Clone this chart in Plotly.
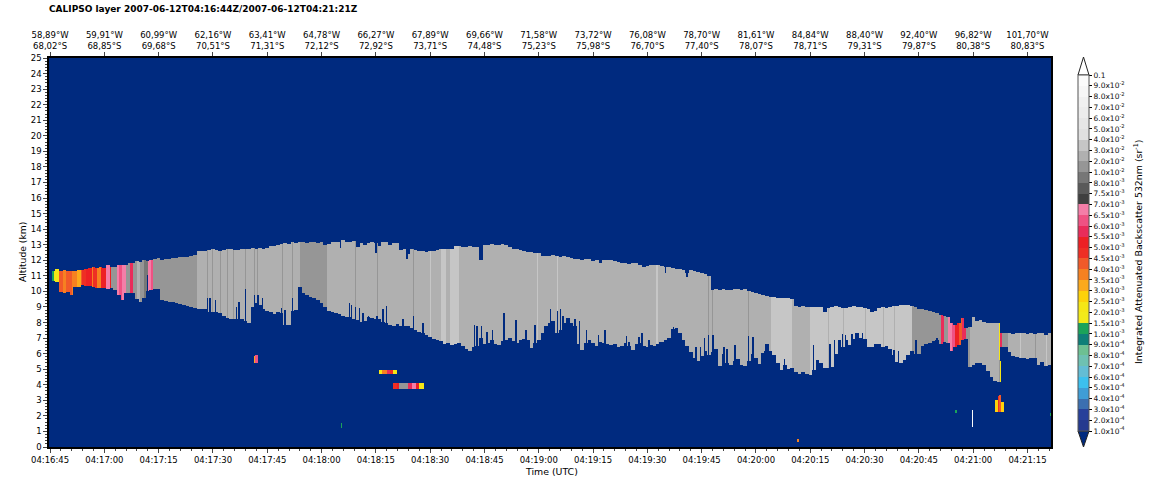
import numpy as np
import pandas as pd
import plotly.graph_objects as go

# ---------- data ----------
start_time = "2007-06-12 04:16:45"
tick_times = ["04:16:45","04:17:00","04:17:15","04:17:30","04:17:45","04:18:00","04:18:15","04:18:30","04:18:45","04:19:00",
              "04:19:15","04:19:30","04:19:45","04:20:00","04:20:15","04:20:30","04:20:45","04:21:00","04:21:15"]
tick_lon = ["58,89","59,91","60,99","62,16","63,41","64,78","66,27","67,89","69,66","71,58",
            "73,72","76,08","78,70","81,61","84,84","88,40","92,40","96,82","101,70"]
tick_lat = ["68,02","68,85","69,68","70,51","71,31","72,12","72,92","73,71","74,48","75,23",
            "75,98","76,70","77,40","78,07","78,71","79,31","79,87","80,38","80,83"]

# main layer, one profile per second from 04:16:45
layer_top = [0,11.3,11.45,11.3,11.35,11.3,11.3,11.3,11.35,11.4,
 11.45,11.5,11.55,11.5,11.55,11.5,11.7,11.55,11.55,11.7,
 11.7,11.7,11.85,11.85,11.95,11.9,12.0,11.95,12.05,12.1,
 12.15,12.05,12.1,12.1,12.15,12.15,12.2,12.2,12.2,12.25,
 12.35,12.6,12.6,12.6,12.65,12.7,12.65,12.6,12.65,12.7,
 12.7,12.65,12.65,12.7,12.75,12.7,12.8,12.75,12.8,12.75,
 12.8,12.9,12.9,13.0,13.05,13.1,13.05,13.15,13.1,13.15,
 13.15,13.1,13.2,13.15,13.1,13.15,12.95,13.05,13.15,13.2,
 13.2,13.3,13.15,13.2,13.25,12.85,13.1,12.95,13.1,13.2,
 13.1,12.9,13.15,13.15,13.0,13.1,13.1,12.65,12.75,12.4,
 12.7,12.65,12.6,12.6,12.55,12.6,12.6,12.65,12.7,12.7,
 12.75,12.75,12.9,12.9,12.85,12.85,12.9,12.85,12.85,12.0,
 12.95,13.0,13.05,13.0,13.0,13.05,13.0,12.85,12.75,12.7,
 12.65,12.6,12.55,12.55,12.5,12.45,12.25,12.3,12.3,12.35,
 12.25,12.2,12.3,12.2,12.15,12.1,12.1,12.05,12.1,12.1,
 11.95,12.0,11.85,12.05,12.0,12.0,11.95,11.9,11.85,11.8,
 11.75,11.8,11.8,11.7,11.6,11.65,11.7,11.7,11.7,11.65,
 11.55,11.55,11.5,11.45,11.45,11.4,11.2,11.35,11.3,11.25,
 11.2,11.15,11.0,10.1,10.15,10.1,10.15,10.1,10.1,10.15,
 10.15,10.1,10.15,10.0,9.95,9.9,9.85,9.8,9.7,9.65,
 9.65,9.6,9.55,9.6,9.55,9.5,9.05,9.0,9.05,9.0,
 9.0,9.0,9.0,9.0,8.7,8.95,9.0,9.05,9.0,8.95,
 8.95,9.0,9.05,9.0,9.0,8.95,8.9,8.7,8.75,8.95,
 9.0,8.95,9.0,9.05,9.05,9.1,9.1,9.1,9.05,9.0,
 8.9,8.85,8.8,8.75,8.7,8.6,8.5,8.45,8.35,8.0,
 7.85,8.0,8.3,7.65,7.7,8.35,8.1,8.15,8.05,7.95,
 8.0,8.0,8.0,7.3,7.3,7.35,7.25,7.3,7.35,7.3,
 7.25,7.3,7.25,7.3,7.3,7.2,7.3]
layer_base = [0,10.7,10.6,9.95,9.9,9.95,9.75,10.3,10.3,10.4,
 10.35,10.35,10.3,10.2,10.2,10.25,10.15,10.2,10.1,9.75,
 9.45,9.9,9.9,9.9,9.5,9.3,9.6,10.0,10.1,10.15,
 10.15,9.45,9.4,9.3,9.3,9.25,9.2,9.1,9.05,9.0,
 8.95,8.9,8.85,8.85,8.65,8.7,8.7,8.6,8.45,8.3,
 8.25,8.2,8.2,8.2,8.1,8.0,9.0,9.25,9.15,8.9,
 8.75,8.65,8.55,8.65,8.6,7.85,7.85,8.75,8.8,10.3,
 9.9,9.75,9.65,9.6,9.45,9.25,9.0,8.75,8.65,8.6,
 8.55,8.45,8.35,8.35,8.2,8.15,8.05,8.1,8.35,8.3,
 8.2,8.25,8.05,8.0,7.85,7.75,7.9,7.8,7.8,7.75,
 7.65,7.55,7.4,7.3,7.2,7.05,6.95,6.85,6.8,6.6,
 6.7,6.55,6.6,6.7,6.5,6.3,6.2,6.4,6.5,7.0,
 6.6,6.7,6.9,6.6,6.55,6.8,6.9,7.0,6.8,6.7,
 6.9,6.95,6.9,6.35,6.7,6.9,7.3,7.8,8.0,8.1,
 7.35,7.5,8.0,8.3,8.0,7.8,6.6,6.25,6.7,6.9,
 6.7,6.5,6.75,6.7,6.6,6.55,6.6,6.45,6.5,6.7,
 6.5,6.25,6.6,6.7,6.5,6.4,6.55,6.5,6.6,6.75,
 6.9,7.0,7.6,7.65,7.3,6.9,6.5,6.1,5.7,5.55,
 5.85,6.2,5.9,6.1,6.3,5.2,6.0,5.4,5.25,5.5,
 5.65,5.3,5.2,5.55,6.0,5.75,5.35,6.05,6.6,6.2,
 5.9,5.4,4.95,5.25,5.0,5.1,4.85,4.7,4.85,4.7,
 4.6,4.95,5.6,5.4,5.05,5.05,5.15,6.0,6.85,6.4,
 6.9,6.55,6.95,7.0,7.0,6.95,6.45,6.4,6.6,6.6,
 6.45,6.5,6.3,5.9,5.45,5.4,5.6,5.9,6.2,5.95,
 6.0,6.5,6.6,6.7,6.8,6.85,6.6,6.75,6.7,6.15,
 6.45,6.55,6.9,6.95,5.15,5.3,5.4,5.4,5.3,4.9,
 4.5,4.25,4.2,6.4,6.4,6.1,5.85,5.8,5.75,5.75,
 5.65,5.7,5.7,5.25,5.45,5.2,5.3]

# backscatter along the main layer: each value holds until its end time (s)
seg_end_s = [1.0,2.4,3.5,4.5,6,7.5,8.5,9,10,11.5,12,13,14,15.5,16.5,17,18.5,19,20,21,22,23,24,25,26,27,28,28.5,30.5,40.5,
             69,76.5,108,109.5,110.5,113,199,205,210,213.5,238,244,246,247,248,249,250,251,252,253,254,261.9,262.5,263,264.5,266,277]
seg_iab = [1.2e-3,2.1e-3,4.2e-3,3.7e-3,4.2e-3,3.7e-3,3.2e-3,4.2e-3,4.7e-3,5.2e-3,3.7e-3,4.7e-3,3.7e-3,5.2e-3,6.8e-3,5.2e-3,1.5e-2,6.8e-3,6.2e-3,6.8e-3,1.5e-2,5.8e-3,1.5e-2,2.5e-2,1.5e-2,9e-3,6.8e-3,6.2e-3,1.5e-2,1.8e-2,
           2.5e-2,1.8e-2,2.5e-2,3.5e-2,2.5e-2,3.5e-2,2.5e-2,3.5e-2,2.5e-2,3.5e-2,3.5e-2,1.8e-2,1.8e-2,5.8e-3,1.5e-2,6.8e-3,6.3e-3,5.2e-3,4.2e-3,5.8e-3,1.5e-2,2.2e-2,2.1e-3,5.8e-3,1.8e-2,2.5e-2,2.5e-2]

# narrow stripes inside the main layer
stripe_s = [43.5,44.8,47,49,50.5,54.1,56.4,57.4,64.1,66.9,84.3,90.3,96.1,100.3,181.8,182.9,192.8,105,114.6,134.5,140,167.7,215,219,225,230,233,268,272,275]
stripe_iab = [1.8e-2,1.8e-2,1.8e-2,1.8e-2,1.8e-2,1.8e-2,1.8e-2,1.8e-2,1.8e-2,1.8e-2,1.8e-2,1.8e-2,1.8e-2,1.8e-2,1.8e-2,1.8e-2,1.8e-2,3.5e-2,3.5e-2,3.5e-2,3.5e-2,3.5e-2,2.5e-2,2.5e-2,2.5e-2,2.5e-2,2.5e-2,3.5e-2,1.8e-2,3.5e-2]

# thin clear slits at the layer base (clear below altitude) and top (clear above altitude)
base_slit_s = [26.8,43.5,44.2,45.6,51.6,52.2,54.1,56.4,57.4,58.6,63.8,64.9,66.8,75.1,82.6,83.3,84.3,85.4,86.5,87.8,89,90.2,91.9,92.8,
               97.5,100.3,103,117.1,118,119.1,120.7,122.1,125.4,128.7,131.5,134,138.1,140.1,140.9,141.7,145,146.1,148.1,151.4,
               153.2,159.1,159.9,162.7,163.5,165.5,168.5,172.1,172.9,174,174.9,178.5,179.6,180.7,181.8,182.9,186.2,187,189.2,192.8,194.2,197.5,
               202.8,210.8,212.4,215.5,216.6,218.8,219.6,221.5,222.4,223.2,224.3,232.9,234.3,239.2,245]
base_slit_km = [11.05,9.6,9.6,9.45,9.0,9.3,10.15,9.75,9.75,9.55,8.95,8.8,9.6,9.45,9.25,9.15,9.0,8.95,8.6,8.4,8.3,8.4,8.9,9.05,
                8.27,8.38,7.95,7.85,7.73,7.73,7.4,7.5,8.6,8.15,7.5,7.85,8.9,8.75,8.9,8.4,8.27,8.1,7.5,7.2,
                7.52,7.13,6.77,7.05,7.3,6.92,6.77,7.7,7.47,7.2,6.7,6.45,6.45,7.0,7.2,7.2,6.45,6.3,6.55,7.13,7.05,6.13,
                5.64,6.55,5.4,6.66,6.88,7.26,7.2,7.26,7.35,7.35,7.3,6.23,6.13,6.88,7.0]
top_slit_s = [80.1,90,98.5,170,176]
top_slit_km = [12.8,12.5,12.1,11.2,10.9]

# isolated small layers
patch_start_s = [56.1,56.6,90.9,91.8,93,94,94.8,94.8,95.8,96.5,99,100,101,102,80.1,206.3,261,261.7,262,262.7,254.4,250,276.3,261.9,262.3]
patch_end_s   = [56.6,57.5,91.8,93,94,94.8,95.6,95.8,96.5,99,100,101,102,103.3,80.7,206.7,261.7,262,262.7,263.5,255,250.4,276.7,262.3,262.8]
patch_base_km = [5.4,5.4,4.7,4.7,4.7,4.7,4.7,3.75,3.75,3.75,3.75,3.75,3.75,3.75,1.2,0.3,2.25,2.25,2.25,2.25,1.3,2.2,2.0,4.2,4.2]
patch_top_km  = [5.85,5.9,4.95,4.95,4.95,4.95,4.95,4.1,4.1,4.1,4.1,4.1,4.1,4.1,1.55,0.5,3.0,3.3,3.35,2.9,2.4,2.4,2.2,5.6,5.5]
patch_iab     = [3.2e-3,6e-3,2.1e-3,3.7e-3,5.8e-3,4.7e-3,2.2e-3,4.7e-3,5.2e-3,1.5e-2,5.8e-3,6.8e-3,5.2e-3,2.1e-3,1.2e-3,3.7e-3,2.7e-3,4.7e-3,4.2e-3,2.7e-3,0.12,1.2e-3,1.2e-3,1.5e-2,2.1e-3]

# colour bar
levels = [1e-4,2e-4,3e-4,4e-4,5e-4,6e-4,7e-4,8e-4,9e-4,1e-3,1.5e-3,2e-3,2.5e-3,3e-3,3.5e-3,4e-3,4.5e-3,5e-3,5.5e-3,6e-3,6.5e-3,
          7e-3,7.5e-3,8e-3,1e-2,2e-2,3e-2,4e-2,5e-2,6e-2,7e-2,8e-2,9e-2,0.1]
level_labels = ["1.0x10<sup>-4</sup>","2.0x10<sup>-4</sup>","3.0x10<sup>-4</sup>","4.0x10<sup>-4</sup>","5.0x10<sup>-4</sup>","6.0x10<sup>-4</sup>",
                "7.0x10<sup>-4</sup>","8.0x10<sup>-4</sup>","9.0x10<sup>-4</sup>","1.0x10<sup>-3</sup>","1.5x10<sup>-3</sup>","2.0x10<sup>-3</sup>",
                "2.5x10<sup>-3</sup>","3.0x10<sup>-3</sup>","3.5x10<sup>-3</sup>","4.0x10<sup>-3</sup>","4.5x10<sup>-3</sup>","5.0x10<sup>-3</sup>",
                "5.5x10<sup>-3</sup>","6.0x10<sup>-3</sup>","6.5x10<sup>-3</sup>","7.0x10<sup>-3</sup>","7.5x10<sup>-3</sup>","8.0x10<sup>-3</sup>",
                "1.0x10<sup>-2</sup>","2.0x10<sup>-2</sup>","3.0x10<sup>-2</sup>","4.0x10<sup>-2</sup>","5.0x10<sup>-2</sup>","6.0x10<sup>-2</sup>",
                "7.0x10<sup>-2</sup>","8.0x10<sup>-2</sup>","9.0x10<sup>-2</sup>","0.1"]
bin_colors = ["#253a8f","#27409a","#3b6fb0","#3f9dd6","#3cc0ee","#63bdd5","#6ec1b2","#6dc092","#0e7f78","#1ba35a",
              "#f2ea1a","#f5e616","#fdd20a","#fba91c","#f68121","#f15a29","#ee2f24","#ed2024","#e92c5a","#ef5283","#f47ea8",
              "#404040","#5a5a5a","#777777","#969696","#b0b0b0","#c6c6c6","#e0e0e0","#e6e6e6","#ececec","#f0f0f0","#f6f6f6","#fbfbfb"]

# ---------- gridding ----------
t_grid = np.arange(-0.3, 276.8, 0.25) + 0.125
alt_grid = np.arange(0.025, 25, 0.05)
iab = np.full((alt_grid.size, t_grid.size), np.nan, dtype=float)

def fill(t0, t1, lo, hi, val):
    c = (t_grid >= t0) & (t_grid < t1)
    r = (alt_grid >= lo) & (alt_grid < hi)
    iab[np.ix_(r, c)] = val

prev = 0.5
seg_lookup = []
for end, val in zip(seg_end_s, seg_iab):
    seg_lookup.append((prev, end, val))
    prev = end
for i, (hi, lo) in enumerate(zip(layer_top, layer_base)):
    if hi <= lo:
        continue
    c = (t_grid >= i - 0.5) & (t_grid < i + 0.5)
    r = (alt_grid >= lo) & (alt_grid < hi)
    for j in np.where(c)[0]:
        for a, b, v in seg_lookup:
            if a <= t_grid[j] < b:
                iab[r, j] = v
                break
for s, v in zip(stripe_s, stripe_iab):
    c = (t_grid >= s - 0.15) & (t_grid < s + 0.15)
    iab[:, c] = np.where(np.isnan(iab[:, c]), np.nan, v)
for s, k in zip(base_slit_s, base_slit_km):
    fill(s - 0.18, s + 0.18, 0, k, np.nan)
for s, k in zip(top_slit_s, top_slit_km):
    fill(s - 0.18, s + 0.18, k, 25, np.nan)
for a, b, lo, hi, v in zip(patch_start_s, patch_end_s, patch_base_km, patch_top_km, patch_iab):
    fill(a, b, lo, hi, v)

n_bins = len(levels) - 1
z = np.clip(np.searchsorted(levels, iab, side="right") - 1, 0, n_bins - 1).astype(float) + 0.5
z[np.isnan(iab)] = np.nan

colorscale = []
for k, col in enumerate(bin_colors):
    colorscale += [[k / n_bins, col], [(k + 1) / n_bins, col]]

t0 = pd.Timestamp(start_time)
x_times = [t0 + pd.Timedelta(seconds=float(s)) for s in t_grid]
tick_vals = [f"2007-06-12 {t}" for t in tick_times]
x_range = [t0 + pd.Timedelta(seconds=-0.3), t0 + pd.Timedelta(seconds=276.5)]

W, H = 1158, 479
L, R, T, B = 49, 1051, 58, 447
FONT = "DejaVu Sans"
fig = go.Figure()
fig.add_trace(go.Heatmap(
    x=x_times, y=alt_grid, z=z.astype("float32"), zmin=0, zmax=n_bins, colorscale=colorscale,
    hoverinfo="skip", zsmooth=False,
    colorbar=dict(
        x=(1078 - L) / (R - L), xanchor="left", y=(B - 431) / (B - T), yanchor="bottom",
        lenmode="pixels", len=356, thickness=11, thicknessmode="pixels", xpad=0, ypad=0,
        tickmode="array", tickvals=list(range(len(levels))), ticktext=level_labels,
        ticks="outside", ticklen=3, tickwidth=1, tickcolor="#000", outlinecolor="#555", outlinewidth=1,
        tickfont=dict(family=FONT, size=7.5, color="#111"),
    ),
))
fig.add_trace(go.Scatter(x=[tick_vals[0]], y=[0], mode="markers", marker=dict(opacity=0), xaxis="x2", showlegend=False, hoverinfo="skip"))

fig.update_layout(
    width=W, height=H, paper_bgcolor="white", plot_bgcolor="#002a7f",
    margin=dict(l=L, r=W - R, t=T, b=H - B, pad=0, autoexpand=False), showlegend=False,
    font=dict(family=FONT, size=8.5, color="#000"),
    xaxis=dict(type="date", range=x_range, tickmode="array", tickvals=tick_vals, ticktext=tick_times, automargin=False,
               ticks="outside", ticklen=4, tickwidth=1, showgrid=False, zeroline=False,
               showline=True, linewidth=1.5, linecolor="#000",
               minor=dict(ticks="outside", ticklen=2, tickwidth=1, dtick=3000, tick0=start_time, showgrid=False)),
    xaxis2=dict(type="date", overlaying="x", side="top", range=x_range, tickmode="array", tickvals=tick_vals, automargin=False,
                ticktext=[f"{a}°W<br>{b}°S" for a, b in zip(tick_lon, tick_lat)],
                ticks="outside", ticklen=4, tickwidth=1, showgrid=False, zeroline=False,
                showline=True, linewidth=2, linecolor="#000"),
    yaxis=dict(range=[0, 25], dtick=1, tick0=0, ticks="outside", ticklen=4, tickwidth=1, showgrid=False, zeroline=False, automargin=False,
               showline=True, mirror=True, linewidth=1.5, linecolor="#000",
               minor=dict(ticks="outside", ticklen=2, tickwidth=1, dtick=0.2, showgrid=False)),
    annotations=[
        dict(text="<b>CALIPSO layer 2007-06-12T04:16:44Z/2007-06-12T04:21:21Z</b>", xref="paper", yref="paper",
             x=-2 / (R - L), y=1 + (T - 9) / (B - T), xanchor="left", yanchor="middle", showarrow=False, font=dict(size=9)),
        dict(text="Time (UTC)", xref="paper", yref="paper", x=(551 - L) / (R - L), y=(B - 471) / (B - T),
             showarrow=False, font=dict(size=9.4), xanchor="center", yanchor="middle"),
        dict(text="Altitude (km)", xref="paper", yref="paper", x=(22 - L) / (R - L), y=(B - 252) / (B - T), textangle=-90,
             showarrow=False, font=dict(size=9.2), xanchor="center", yanchor="middle"),
        dict(text="Integrated Attenuated Backscatter 532nm (sr<sup>-1</sup>)", xref="paper", yref="paper",
             x=(1138 - L) / (R - L), y=(B - 252) / (B - T), textangle=-90, showarrow=False, font=dict(size=9.4),
             xanchor="center", yanchor="middle"),
    ],
)
px = lambda v: (v - L) / (R - L)
py = lambda v: (B - v) / (B - T)
fig.add_shape(type="path", xref="paper", yref="paper", fillcolor="white", line=dict(color="#222", width=1),
              path=f"M {px(1078)} {py(75)} L {px(1083.5)} {py(57)} L {px(1089)} {py(75)} Z")
fig.add_shape(type="path", xref="paper", yref="paper", fillcolor="#002a7f", line=dict(color="#222", width=1),
              path=f"M {px(1078)} {py(431)} L {px(1083.5)} {py(447)} L {px(1089)} {py(431)} Z")

fig.write_html("out.html", config={"displayModeBar": False},
               post_script="document.body.style.margin='0';document.body.style.overflow='hidden';")
